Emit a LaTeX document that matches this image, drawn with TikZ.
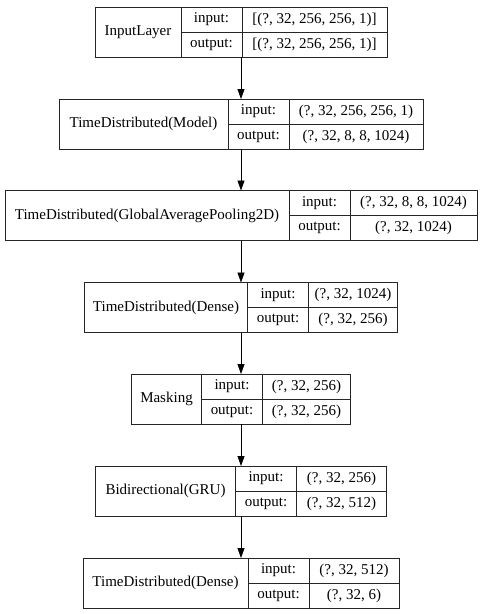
\documentclass[tikz,border=0pt]{standalone}
\usepackage{fontspec}
\setmainfont{Liberation Serif}
\usetikzlibrary{arrows.meta, positioning, fit}

\begin{document}
\begin{tikzpicture}[
  x=1pt, y=-1pt,
  every node/.style={font=\fontsize{15}{18}\selectfont, inner sep=0pt, outer sep=0pt},
  namecell/.style={draw=black!85, line width=0.8pt, minimum height=50pt, anchor=north west},
  portcell/.style={draw=black!85, line width=0.8pt, minimum width=61pt, minimum height=25pt, anchor=north west},
  shapecell/.style={portcell, minimum width=#1},
  link/.style={draw=black, line width=0.8pt, -{Triangle[length=10pt, width=7pt]}},
]
\useasboundingbox (0,0) rectangle (482,614);
% InputLayer
\node[namecell, minimum width=86pt] (inputname) at (95,7) {InputLayer};
\node[portcell] (inputin) at (inputname.north east) {input:};
\node[shapecell=145pt] (inputinv) at (inputin.north east) {[(?, 32, 256, 256, 1)]};
\node[portcell] (inputout) at (inputin.south west) {output:};
\node[shapecell=145pt] (inputoutv) at (inputout.north east) {[(?, 32, 256, 256, 1)]};
\node[fit=(inputname)(inputoutv)] (input) {};
% TimeDistributed(Model)
\node[namecell, minimum width=169pt] (modelname) at (59,99) {TimeDistributed(Model)};
\node[portcell] (modelin) at (modelname.north east) {input:};
\node[shapecell=134pt] (modelinv) at (modelin.north east) {(?, 32, 256, 256, 1)};
\node[portcell] (modelout) at (modelin.south west) {output:};
\node[shapecell=134pt] (modeloutv) at (modelout.north east) {(?, 32, 8, 8, 1024)};
\node[fit=(modelname)(modeloutv)] (model) {};
% TimeDistributed(GlobalAveragePooling2D)
\node[namecell, minimum width=284pt] (poolname) at (5,190.5) {TimeDistributed(GlobalAveragePooling2D)};
\node[portcell] (poolin) at (poolname.north east) {input:};
\node[shapecell=127pt] (poolinv) at (poolin.north east) {(?, 32, 8, 8, 1024)};
\node[portcell] (poolout) at (poolin.south west) {output:};
\node[shapecell=127pt] (pooloutv) at (poolout.north east) {(?, 32, 1024)};
\node[fit=(poolname)(pooloutv)] (pool) {};
% TimeDistributed(Dense)
\node[namecell, minimum width=163pt] (densename) at (84.5,282.5) {TimeDistributed(Dense)};
\node[portcell] (densein) at (densename.north east) {input:};
\node[shapecell=89pt] (denseinv) at (densein.north east) {(?, 32, 1024)};
\node[portcell] (denseout) at (densein.south west) {output:};
\node[shapecell=89pt] (denseoutv) at (denseout.north east) {(?, 32, 256)};
\node[fit=(densename)(denseoutv)] (dense) {};
% Masking
\node[namecell, minimum width=70pt] (maskname) at (131.5,374) {Masking};
\node[portcell] (maskin) at (maskname.north east) {input:};
\node[shapecell=88pt] (maskinv) at (maskin.north east) {(?, 32, 256)};
\node[portcell] (maskout) at (maskin.south west) {output:};
\node[shapecell=88pt] (maskoutv) at (maskout.north east) {(?, 32, 256)};
\node[fit=(maskname)(maskoutv)] (mask) {};
% Bidirectional(GRU)
\node[namecell, minimum width=140pt] (gruname) at (95.5,466) {Bidirectional(GRU)};
\node[portcell] (gruin) at (gruname.north east) {input:};
\node[shapecell=90pt] (gruinv) at (gruin.north east) {(?, 32, 256)};
\node[portcell] (gruout) at (gruin.south west) {output:};
\node[shapecell=90pt] (gruoutv) at (gruout.north east) {(?, 32, 512)};
\node[fit=(gruname)(gruoutv)] (gru) {};
% TimeDistributed(Dense), last
\node[namecell, minimum width=165pt] (finalname) at (83,558) {TimeDistributed(Dense)};
\node[portcell] (finalin) at (finalname.north east) {input:};
\node[shapecell=90pt] (finalinv) at (finalin.north east) {(?, 32, 512)};
\node[portcell] (finalout) at (finalin.south west) {output:};
\node[shapecell=90pt] (finaloutv) at (finalout.north east) {(?, 32, 6)};
\node[fit=(finalname)(finaloutv)] (final) {};
% links
\draw[link] (input.south) -- (input.south |- model.north);
\draw[link] (model.south) -- (model.south |- pool.north);
\draw[link] (pool.south) -- (pool.south |- dense.north);
\draw[link] (dense.south) -- (dense.south |- mask.north);
\draw[link] (mask.south) -- (mask.south |- gru.north);
\draw[link] (gru.south) -- (gru.south |- final.north);
\end{tikzpicture}
\end{document}
